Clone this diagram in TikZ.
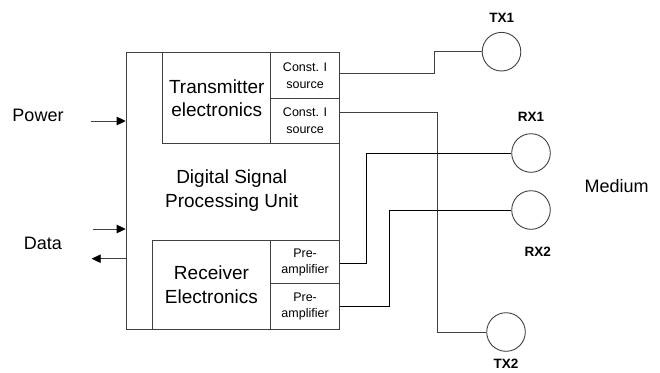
\documentclass[tikz,border=0pt]{standalone}
\usepackage{fontspec}
\setmainfont{Liberation Sans}
\usetikzlibrary{arrows.meta}
\begin{document}
\begin{tikzpicture}[x=1pt,y=-1pt,
  box/.style={draw=black!75,line width=0.9pt,inner sep=0pt,anchor=north west,align=center},
  big/.style={font=\fontsize{19}{23.5}\selectfont},
  small/.style={font=\fontsize{12.5}{16.5}\selectfont},
  lbl/.style={font=\fontsize{18}{22}\selectfont},
  tag/.style={font=\bfseries\fontsize{13.5}{16}\selectfont},
  sensor/.style={draw=black!75,line width=0.9pt,circle,minimum size=38.6pt,inner sep=0pt},
  wire/.style={draw=black!75,line width=0.9pt},
  rwire/.style={draw=black,line width=0.9pt},
  arr/.style={draw=black!75,line width=0.9pt,-{Triangle[length=9pt,width=8.5pt,color=black]}}]
\useasboundingbox (0,0) rectangle (660,372);
% outer DSP box
\node[box,minimum width=213.3pt,minimum height=276.4pt] (dsp) at (125.7,52.3) {};
\node[big,align=center] (dsptext) at (231.7,190.5) {Digital Signal\\Processing Unit};
% transmitter
\node[box,big,minimum width=108pt,minimum height=90.7pt] (tx) at (162.3,52.3) {Transmitter\\electronics};
\node[box,small,minimum width=68.7pt,minimum height=45.4pt] (cs1) at (270.3,52.3) {Const. I\\source};
\node[box,small,minimum width=68.7pt,minimum height=45.3pt] (cs2) at (270.3,97.7) {Const. I\\source};
% receiver
\node[box,big,minimum width=118.6pt,minimum height=88.4pt] (rx) at (151.7,240.3) {Receiver\\Electronics};
\node[box,small,minimum width=68.7pt,minimum height=43pt] (pa1) at (270.3,240.3) {Pre-\\amplifier};
\node[box,small,minimum width=68.7pt,minimum height=45.4pt] (pa2) at (270.3,283.3) {Pre-\\amplifier};
% sensors
\node[sensor] (tx1) at (501.5,51.7) {};
\node[sensor] (tx2) at (506,332) {};
\node[sensor] (rx1) at (531,153) {};
\node[sensor] (rx2) at (531,210) {};
\node[tag] (tx1l) at (501.7,18.3) {TX1};
\node[tag] (tx2l) at (506,364) {TX2};
\node[tag] (rx1l) at (531,116.7) {RX1};
\node[tag] (rx2l) at (537.7,251.7) {RX2};
\node[lbl] (medium) at (616.7,186) {Medium};
\node[lbl] (power) at (38,115) {Power};
\node[lbl] (data) at (43,243) {Data};
% wires
\draw[wire] ([yshift=1.7pt]cs1.east) -- ++(95,0) |- (tx1.west);
\draw[wire] ([yshift=8.6pt]cs2.east) -- ++(97.7,0) |- (tx2.west);
\draw[rwire] ([yshift=-1.5pt]pa1.east) -- ++(27,0) |- (rx1.west);
\draw[rwire] (pa2.east) -- ++(49.3,0) |- (rx2.west);
% arrows
\coordinate (pin) at (91,121);
\coordinate (din) at (92.7,229);
\coordinate (dout) at (91.7,258.7);
\draw[arr] (pin) -- (pin -| dsp.west);
\draw[arr] (din) -- (din -| dsp.west);
\draw[arr] (dout -| dsp.west) -- (dout);
\end{tikzpicture}
\end{document}
